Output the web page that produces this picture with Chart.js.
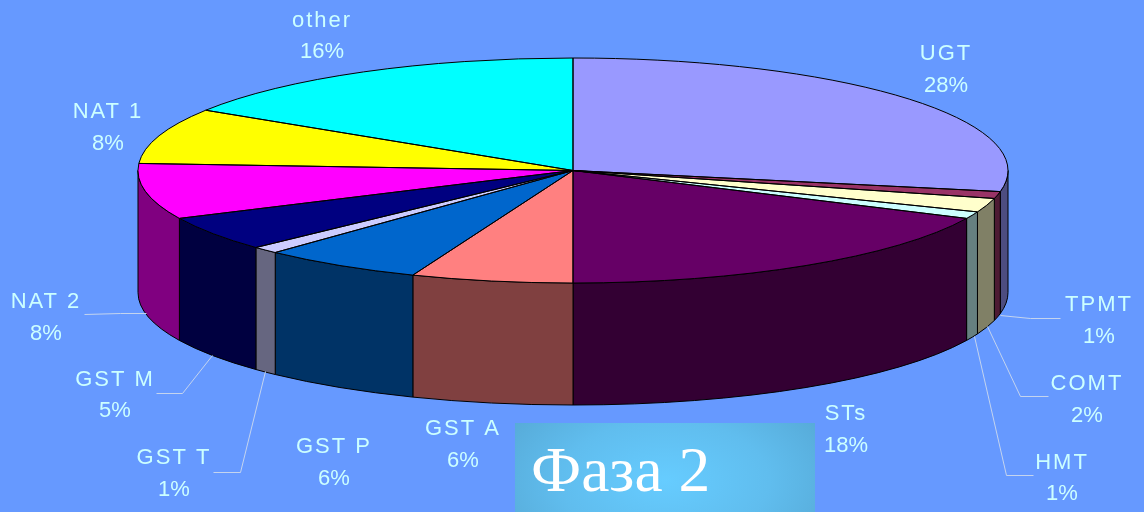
<!DOCTYPE html>
<html lang="ru">
<head>
<meta charset="utf-8">
<script src="https://cdn.jsdelivr.net/npm/chart.js@4"></script>
<style>
html,body{margin:0;padding:0;width:1144px;height:512px;overflow:hidden;background:#6699ff}
#c{position:absolute;left:0;top:0;filter:blur(0.35px)}
#title{position:absolute;left:515px;top:423px;width:300px;height:89px;
background:radial-gradient(ellipse 190px 110px at 50% 65%,#66ccff 0%,#60bdee 55%,#56a9d6 100%);
color:#fff;font:63.5px/1 "Liberation Serif",serif;}
#title span{position:absolute;left:16px;top:15px;white-space:nowrap}
</style>
</head>
<body>
<canvas id="c" width="1144" height="512"></canvas>
<div id="title"><span>Фаза 2</span></div>
<script>
const categories = ["UGT","TPMT","COMT","HMT","STs","GST A","GST P","GST T","GST M","NAT 2","NAT 1","other"];
const percents   = [28,1,2,1,18,6,6,1,5,8,8,16];
const topColors  = ["#9999ff","#993366","#ffffcc","#ccffff","#660066","#ff8080","#0066cc","#ccccff","#000080","#ff00ff","#ffff00","#00ffff"];
const sideColors = ["#4d4d80","#4d1a33","#808066","#668080","#330033","#804040","#003366","#666680","#000040","#800080","#808000","#008080"];

// layout of the tilted pie
const view = {cx:573, cy:170.5, rx:435, ry:112.5, depth:122};
// label centres [x, first line y, second line y]
const labelSpots = [[946,54,86],[1099,305,337],[1087,384,416],[1062,463,494],[846,414,446],[463,429,461],
                    [334,447,479],[174,458,490],[115,380,411],[46,302,334],[108,112,144],[322,21,52]];
const leaders = [null,
  [[1000,315],[1030,318],[1060,318]],
  [[987,326],[1020,396],[1048,396]],
  [[974,336],[1006,475],[1033,475]],
  null,null,null,
  [[265,371],[240,472],[213,472]],
  [[212,355],[182,393],[156,393]],
  [[146,313],[120,313],[84,314]],
  null,null];

const tilted = {
  id:'tilted',
  beforeDatasetsDraw(chart){
    const ctx = chart.ctx, arcs = chart.getDatasetMeta(0).data, v = view;
    ctx.save();
    ctx.lineWidth = 1; ctx.strokeStyle = '#000';
    arcs.forEach((a,i)=>{
      const s = Math.max(a.startAngle,0), e = Math.min(a.endAngle,Math.PI);
      if (e <= s) return;
      ctx.beginPath();
      ctx.ellipse(v.cx,v.cy,v.rx,v.ry,0,s,e);
      ctx.ellipse(v.cx,v.cy+v.depth,v.rx,v.ry,0,e,s,true);
      ctx.closePath();
      ctx.fillStyle = sideColors[i];
      ctx.fill(); ctx.stroke();
    });
    ctx.restore();
    const a0 = arcs[0], k = 1/a0.outerRadius;
    ctx.save();
    ctx.translate(v.cx,v.cy);
    ctx.scale(v.rx*k,v.ry*k);
    ctx.translate(-a0.x,-a0.y);
  },
  afterDatasetsDraw(chart){
    const ctx = chart.ctx, arcs = chart.getDatasetMeta(0).data, v = view;
    ctx.restore();
    ctx.save();
    ctx.lineWidth = 1; ctx.strokeStyle = '#000';
    arcs.forEach(a=>{
      ctx.beginPath();
      ctx.moveTo(v.cx,v.cy);
      ctx.ellipse(v.cx,v.cy,v.rx,v.ry,0,a.startAngle,a.endAngle);
      ctx.closePath();
      ctx.stroke();
    });
    ctx.strokeStyle = '#c4d4ee';
    leaders.forEach(l=>{
      if(!l) return;
      ctx.beginPath();
      l.forEach((p,i)=> i ? ctx.lineTo(p[0]+.5,p[1]+.5) : ctx.moveTo(p[0]+.5,p[1]+.5));
      ctx.stroke();
    });
    ctx.fillStyle = '#ccffff';
    ctx.font = '22px "Liberation Sans", Arial, sans-serif';
    ctx.textAlign = 'center';
    ctx.textBaseline = 'middle';
    categories.forEach((n,i)=>{
      const p = labelSpots[i];
      ctx.letterSpacing = '2px';
      ctx.fillText(n,p[0],p[1]);
      ctx.letterSpacing = '0px';
      ctx.fillText(percents[i]+'%',p[0],p[2]);
    });
    ctx.restore();
  }
};

new Chart(document.getElementById('c'),{
  type:'pie',
  data:{labels:categories,datasets:[{data:percents,backgroundColor:topColors,borderWidth:0,clip:false}]},
  options:{responsive:false,animation:false,events:[],
    plugins:{legend:{display:false},tooltip:{enabled:false}}},
  plugins:[tilted]
});
</script>
</body>
</html>
